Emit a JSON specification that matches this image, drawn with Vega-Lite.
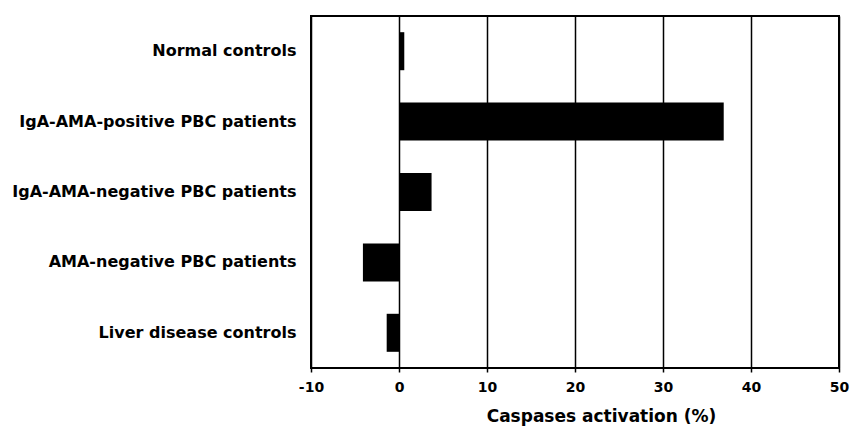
{
  "$schema": "https://vega.github.io/schema/vega-lite/v6.json",
  "autosize": "none",
  "width": 528,
  "height": 352,
  "padding": {"left": 311, "top": 16, "right": 12, "bottom": 60},
  "background": "white",
  "config": {
    "view": {"stroke": "black", "strokeWidth": 2},
    "font": "DejaVu Sans"
  },
  "data": {
    "values": [
      {"group": "Normal controls", "value": 0.6},
      {"group": "IgA-AMA-positive PBC patients", "value": 36.9},
      {"group": "IgA-AMA-negative PBC patients", "value": 3.7},
      {"group": "AMA-negative PBC patients", "value": -4.1},
      {"group": "Liver disease controls", "value": -1.4}
    ]
  },
  "mark": {"type": "bar", "color": "black"},
  "encoding": {
    "y": {
      "field": "group",
      "type": "nominal",
      "sort": null,
      "scale": {"paddingInner": 0.46, "paddingOuter": 0.23},
      "axis": {
        "title": null,
        "domain": false,
        "ticks": false,
        "labelPadding": 15,
        "labelFont": "DejaVu Sans",
        "labelFontWeight": "bold",
        "labelFontSize": 16,
        "labelColor": "black",
        "labelLimit": 400
      }
    },
    "x": {
      "field": "value",
      "type": "quantitative",
      "scale": {"domain": [-10, 50], "nice": false, "zero": false},
      "axis": {
        "values": [-10, 0, 10, 20, 30, 40, 50],
        "labelExpr": "'' + datum.value",
        "title": "Caspases activation (%)",
        "titleFont": "DejaVu Sans",
        "titleFontWeight": "bold",
        "titleFontSize": 17,
        "titleColor": "black",
        "titleX": 290,
        "titleAnchor": "middle",
        "titlePadding": 14,
        "labelFont": "DejaVu Sans",
        "labelFontWeight": "bold",
        "labelFontSize": 14,
        "labelColor": "black",
        "labelPadding": 8,
        "labelFlush": false,
        "domain": false,
        "ticks": true,
        "tickSize": 4,
        "tickColor": "black",
        "tickWidth": 1.5,
        "grid": true,
        "gridColor": "black",
        "gridWidth": 1.5,
        "gridOpacity": 1
      }
    }
  }
}
